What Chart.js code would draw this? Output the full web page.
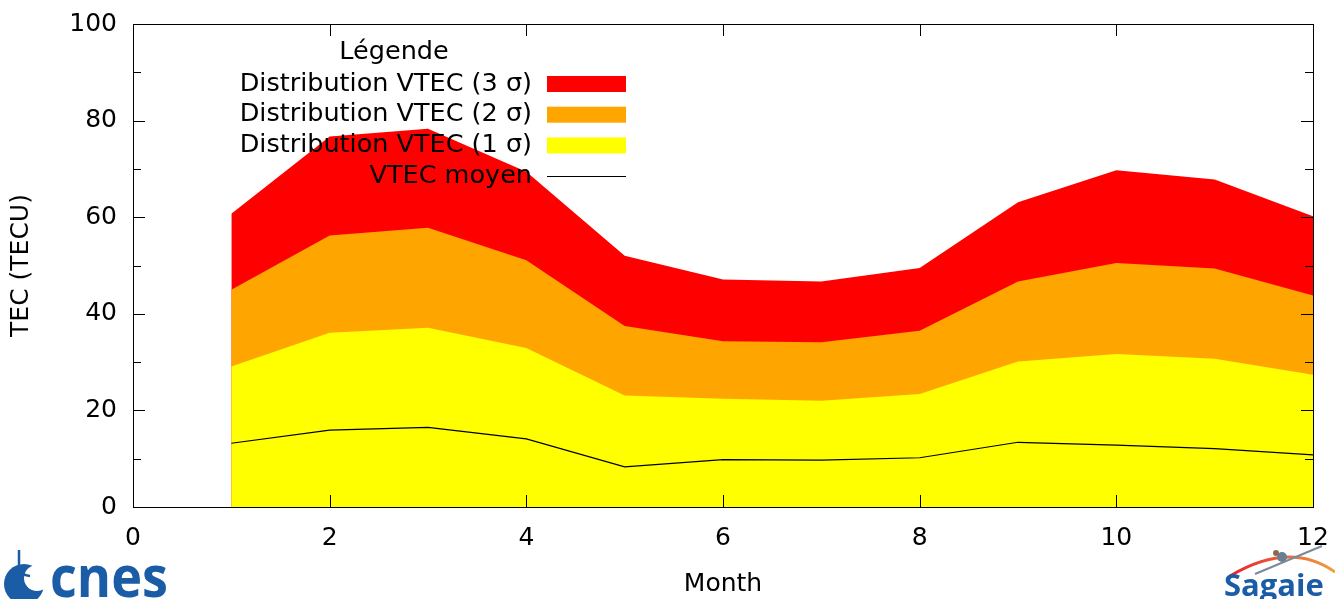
<!DOCTYPE html>
<html><head><meta charset="utf-8">
<script src="https://cdn.jsdelivr.net/npm/chart.js@4"></script>
<style>html,body{margin:0;padding:0;background:#fff}canvas{display:block}</style>
</head><body>
<canvas id="c" width="1335" height="599"></canvas>
<script>
const months = [1,2,3,4,5,6,7,8,9,10,11,12];
const sigma3 = [60.7,76.7,78.3,69.4,52.0,47.1,46.7,49.5,63.1,69.7,67.8,60.2];
const sigma2 = [45.0,56.2,57.8,51.1,37.5,34.3,34.1,36.5,46.7,50.5,49.4,43.8];
const sigma1 = [29.1,36.1,37.1,32.9,23.1,22.4,22.0,23.4,30.1,31.7,30.7,27.4];
const meanVtec = [13.2,15.9,16.5,14.1,8.3,9.8,9.7,10.2,13.4,12.8,12.1,10.8];
const legendTitle = 'Légende';
const legendLabels = ['Distribution VTEC (3 σ)','Distribution VTEC (2 σ)','Distribution VTEC (1 σ)','VTEC moyen'];
const xTickValues = [0,2,4,6,8,10,12];
const yMajorTicks = [0,20,40,60,80,100];
const yMinorTicks = [10,30,50,70,90];
const xTitle = 'Month';
const yTitle = 'TEC (TECU)';

const FONT = '"DejaVu Sans", sans-serif';
const COLORS = ['#ff0000','#ffa500','#ffff00','#000000'];
const pts = arr => months.map((m,i)=>({x:m,y:arr[i]}));

const frameTicks = {
  id:'frameTicks',
  afterDatasetsDraw(chart){
    const {ctx, chartArea:a, scales:{x,y}} = chart;
    ctx.save();
    ctx.strokeStyle='#000'; ctx.lineWidth=1;
    ctx.beginPath();
    xTickValues.forEach(v=>{
      const px=Math.round(x.getPixelForValue(v))+0.5;
      ctx.moveTo(px,a.bottom); ctx.lineTo(px,a.bottom-12);
      ctx.moveTo(px,a.top); ctx.lineTo(px,a.top+12);
    });
    yMajorTicks.forEach(v=>{
      const py=Math.round(y.getPixelForValue(v))+0.5;
      ctx.moveTo(a.left,py); ctx.lineTo(a.left+12,py);
      ctx.moveTo(a.right,py); ctx.lineTo(a.right-12,py);
    });
    yMinorTicks.forEach(v=>{
      const py=Math.round(y.getPixelForValue(v))+0.5;
      ctx.moveTo(a.left,py); ctx.lineTo(a.left+8,py);
      ctx.moveTo(a.right,py); ctx.lineTo(a.right-8,py);
    });
    ctx.stroke();
    ctx.strokeRect(Math.round(a.left)+0.5,Math.round(a.top)+0.5,Math.round(a.right-a.left),Math.round(a.bottom-a.top));
    // legend
    ctx.fillStyle='#000';
    ctx.font='25.5px '+FONT;
    ctx.textAlign='center'; ctx.textBaseline='middle';
    ctx.fillText(legendTitle, a.left+261, a.top+28);
    ctx.textAlign='right';
    legendLabels.forEach((t,i)=>{
      const cy=a.top+60+i*30.7;
      ctx.fillStyle='#000';
      ctx.fillText(t, a.left+399, cy);
      if(i<3){
        ctx.fillStyle=COLORS[i];
        ctx.fillRect(a.left+414, cy-8, 79, 16);
      } else {
        ctx.beginPath(); ctx.strokeStyle='#000';
        ctx.moveTo(a.left+414, Math.round(cy)+0.5); ctx.lineTo(a.left+493, Math.round(cy)+0.5); ctx.stroke();
      }
    });
    ctx.restore();
  },
  afterDraw(chart){
    const ctx=chart.ctx;
    ctx.save();
    const blue='#1b5ca6';
    // cnes logo
    ctx.fillStyle=blue;
    ctx.beginPath(); ctx.arc(24,584,20,0,Math.PI*2); ctx.fill();
    ctx.fillStyle='#fff';
    ctx.beginPath(); ctx.arc(37,578,13,0,Math.PI*2); ctx.fill();
    ctx.strokeStyle=blue; ctx.lineWidth=2.5;
    ctx.beginPath(); ctx.moveTo(19,550); ctx.lineTo(19,568); ctx.quadraticCurveTo(20,575,30,576); ctx.stroke();
    ctx.fillStyle=blue;
    ctx.font='bold 58px "Open Sans", sans-serif';
    ctx.textAlign='left'; ctx.textBaseline='alphabetic';
    ctx.fillText('cnes',50,597,118);
    // Sagaie logo
    const g=ctx.createLinearGradient(1228,0,1335,0);
    g.addColorStop(0,'#e8202a'); g.addColorStop(1,'#f0a040');
    ctx.strokeStyle=g; ctx.lineWidth=3;
    ctx.beginPath(); ctx.moveTo(1230,576); ctx.quadraticCurveTo(1290,540,1335,572); ctx.stroke();
    ctx.strokeStyle='#7a8a9a'; ctx.lineWidth=2;
    ctx.beginPath(); ctx.moveTo(1255,574); ctx.lineTo(1322,546); ctx.stroke();
    ctx.fillStyle='#6a7f90';
    ctx.beginPath(); ctx.arc(1282,557,5,0,Math.PI*2); ctx.fill();
    ctx.fillStyle='#8a6a50';
    ctx.beginPath(); ctx.arc(1276,553,3,0,Math.PI*2); ctx.fill();
    ctx.fillStyle=blue;
    ctx.font='bold 31px "Open Sans", sans-serif';
    ctx.fillText('Sagaie',1224,596,108);
    ctx.restore();
  }
};

new Chart(document.getElementById('c'),{
  type:'line',
  data:{datasets:[
    {label:legendLabels[0],data:pts(sigma3),backgroundColor:COLORS[0],borderWidth:0,fill:'origin',pointRadius:0,order:4,tension:0},
    {label:legendLabels[1],data:pts(sigma2),backgroundColor:COLORS[1],borderWidth:0,fill:'origin',pointRadius:0,order:3,tension:0},
    {label:legendLabels[2],data:pts(sigma1),backgroundColor:COLORS[2],borderWidth:0,fill:'origin',pointRadius:0,order:2,tension:0},
    {label:legendLabels[3],data:pts(meanVtec),borderColor:COLORS[3],borderWidth:1.2,fill:false,pointRadius:0,order:1,tension:0}
  ]},
  options:{
    responsive:false, animation:false,
    layout:{padding:{top:24,right:22,left:0,bottom:0}},
    plugins:{legend:{display:false},tooltip:{enabled:false}},
    scales:{
      x:{type:'linear',min:0,max:12,
        afterBuildTicks(s){ s.ticks = xTickValues.map(v=>({value:v})); },
        afterFit(s){ s.height=92; s.paddingLeft=0; s.paddingRight=0; },
        grid:{display:false}, border:{display:false},
        ticks:{color:'#000',font:{family:FONT,size:25},padding:8,maxRotation:0,autoSkip:false},
        title:{display:true,text:xTitle,color:'#000',font:{family:FONT,size:25},padding:{top:0,bottom:0}}
      },
      y:{min:0,max:100,
        afterBuildTicks(s){ s.ticks = yMajorTicks.map(v=>({value:v})); },
        afterFit(s){ s.width=133; s.paddingTop=0; s.paddingBottom=0; },
        grid:{display:false}, border:{display:false},
        ticks:{color:'#000',font:{family:FONT,size:25},padding:8},
        title:{display:true,text:yTitle,color:'#000',font:{family:FONT,size:25},padding:{top:6,bottom:0}}
      }
    }
  },
  plugins:[frameTicks]
});
</script>
</body></html>
